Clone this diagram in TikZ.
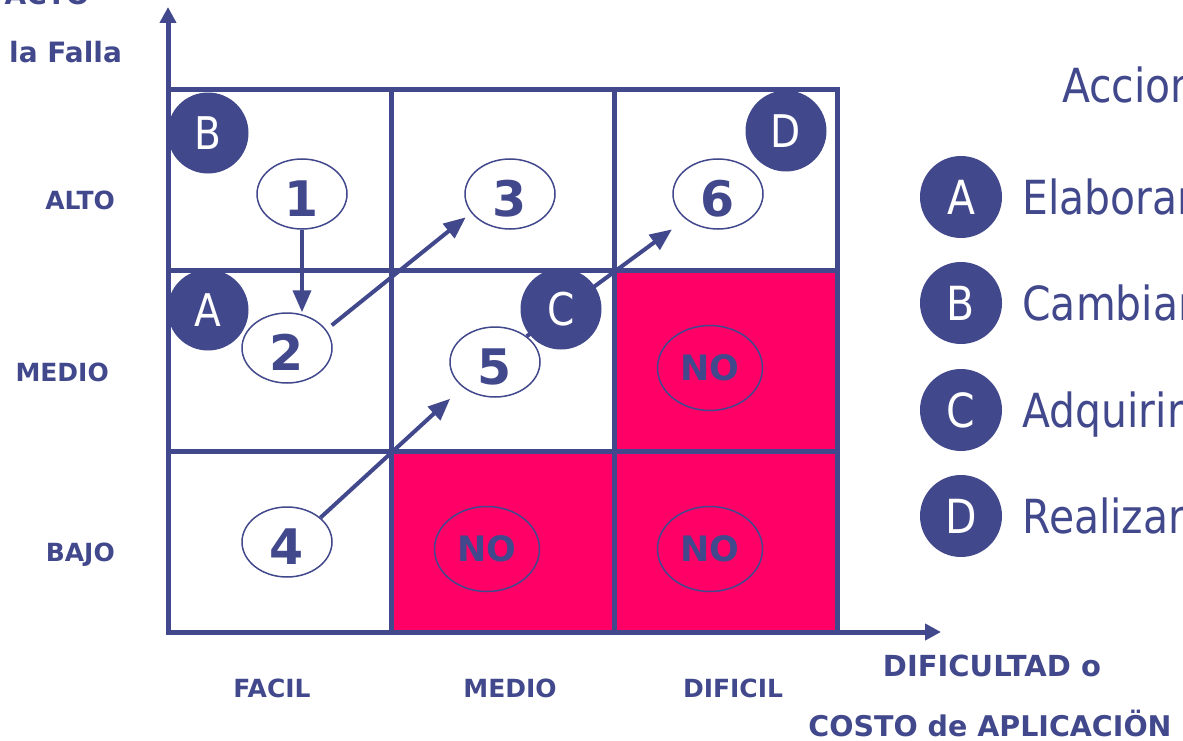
\documentclass[tikz,border=0pt]{standalone}
\usepackage{fontspec}
\setmainfont{DejaVu Sans}
\newfontfamily\legfont[FakeStretch=0.87]{DejaVu Sans}
\usetikzlibrary{shapes.geometric,arrows.meta,positioning}
\definecolor{navyLine}{HTML}{42488C}
\definecolor{noPink}{HTML}{FF0066}

\begin{document}
\begin{tikzpicture}[
      x=1pt, y=-1pt,
      cell/.style={
        rectangle, draw=navyLine, line width=5pt, inner sep=0pt, outer sep=0pt,
        minimum width=223pt, minimum height=180.67pt
      },
      numnode/.style={
        ellipse, draw=navyLine, line width=1.5pt, fill=white, inner sep=0pt,
        minimum width=90pt, minimum height=70pt, text=navyLine,
        text height=45pt, text depth=0pt,
        font=\fontsize{49pt}{49pt}\selectfont\bfseries
      },
      nonode/.style={
        ellipse, draw=navyLine, line width=1.5pt, inner sep=0pt,
        minimum width=105pt, minimum height=85pt, text=navyLine,
        font=\fontsize{35pt}{35pt}\selectfont\bfseries
      },
      actnode/.style={
        circle, fill=navyLine, inner sep=0pt, minimum size=81pt, text=white,
        font=\legfont\fontsize{45pt}{45pt}\selectfont
      },
      legtext/.style={
        inner sep=0pt, text=navyLine, text height=34pt, text depth=0pt,
        font=\legfont\fontsize{47pt}{47pt}\selectfont
      },
      axlabel/.style={
        inner sep=0pt, text=navyLine, text height=18pt, text depth=0pt,
        font=\fontsize{25pt}{25pt}\selectfont\bfseries
      },
      axtitle/.style={
        inner sep=0pt, text=navyLine,
        font=\fontsize{28pt}{28pt}\selectfont\bfseries
      },
      flowarr/.style={-{Triangle[length=22pt,width=18pt]}, draw=navyLine, line width=4pt},
      axisarr/.style={{Triangle[length=16pt,width=16pt]}-{Triangle[length=16pt,width=16pt]},
        draw=navyLine, line width=5pt}
    ]
      \useasboundingbox (0,0) rectangle (1183,741);

      % matrix cells
      \foreach \r/\c/\f in {1/1/white,1/2/white,1/3/white,2/1/white,2/2/white,2/3/noPink,3/1/white,3/2/noPink,3/3/noPink}
        \node[cell, fill=\f] (c\r\c) at ({168+223*(\c-0.5)}, {90+180.67*(\r-0.5)}) {};

      % axes
      \coordinate (orig) at (168,632);
      \coordinate (ytip) at (168,7);
      \coordinate (xtip) at (941,632);
      \draw[axisarr] (ytip) -- (orig) -- (xtip);

      \node[axtitle, anchor=base east] (ytitle1) at (90,5) {ACTO};
      \node[axtitle, anchor=base west] (ytitle2) at (9,63) {la Falla};
      \node[axlabel, anchor=east] (rowA) at (115,200) {ALTO};
      \node[axlabel, anchor=east] (rowM) at (109,372) {MEDIO};
      \node[axlabel, anchor=east] (rowB) at (115,552) {BAJO};
      \node[axlabel] (colF) at (272,688) {FACIL};
      \node[axlabel] (colM) at (510,688) {MEDIO};
      \node[axlabel] (colD) at (733,688) {DIFICIL};
      \node[axtitle, font=\fontsize{29pt}{29pt}\selectfont\bfseries] (xtitle1) at (992,666) {DIFICULTAD o};
      \node[axtitle, font=\fontsize{28.5pt}{28.5pt}\selectfont\bfseries] (xtitle2) at (990,723) {COSTO de APLICACIÖN};

      % numbered cases
      \node[numnode] (n1) at (302,194) {1};
      \node[numnode] (n2) at (287,348) {2};
      \node[numnode] (n3) at (510,194) {3};
      \node[numnode] (n4) at (287,542) {4};
      \node[numnode] (n5) at (495,362) {5};
      \node[numnode] (n6) at (718,194) {6};
      \node[nonode] (no1) at (710,368) {NO};
      \node[nonode] (no2) at (487,549) {NO};
      \node[nonode] (no3) at (710,549) {NO};

      \draw[flowarr] (n1.south) -- (n1.south |- n2.north);
      \draw[flowarr, shorten <=7pt, shorten >=7pt] (n2.25) -- (n3.206);
      \draw[flowarr, shorten >=17pt] (n4.36) -- (n5.218);
      \draw[flowarr, shorten >=17pt] (n5.39) -- (n6.218);

      % actions in the matrix
      \node[actnode] (actB) at (208,133) {B};
      \node[actnode] (actA) at (208,310) {A};
      \node[actnode] (actC) at (561,309) {C};
      \node[actnode] (actD) at (786,131) {D};

      % legend
      \node[legtext, anchor=base west, text height=] (legT) at (1062,103) {Accion};
      \node[actnode, minimum size=82pt, font=\legfont\fontsize{47pt}{47pt}\selectfont] (legA) at (961,197) {A};
      \node[actnode, minimum size=82pt, font=\legfont\fontsize{47pt}{47pt}\selectfont] (legB) at (961,303) {B};
      \node[actnode, minimum size=82pt, font=\legfont\fontsize{47pt}{47pt}\selectfont] (legC) at (961,410) {C};
      \node[actnode, minimum size=82pt, font=\legfont\fontsize{47pt}{47pt}\selectfont] (legD) at (961,516) {D};
      \node[legtext, right=20pt of legA] (legtA) {Elaborar};
      \node[legtext, right=20pt of legB] (legtB) {Cambiar};
      \node[legtext, right=20pt of legC] (legtC) {Adquirir};
      \node[legtext, right=20pt of legD] (legtD) {Realizar};
    \end{tikzpicture}
\end{document}
